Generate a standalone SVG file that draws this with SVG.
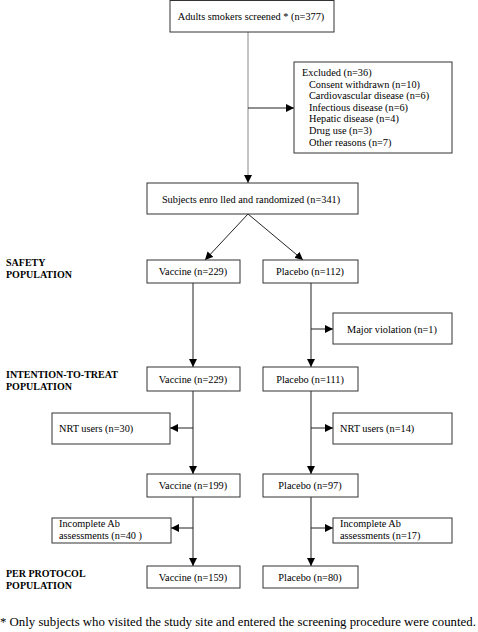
<svg xmlns="http://www.w3.org/2000/svg" width="478" height="632" viewBox="0 0 478 632" font-family="'Liberation Serif', 'Times New Roman', Times, serif">
<style>
.box{fill:#fff;stroke:#333;stroke-width:1}
text{font-family:'Liberation Serif','Times New Roman',Times,serif;font-size:10.3px;fill:#000}
.c{text-anchor:middle}
.lbl{font-weight:bold;font-size:10px}
.ln{stroke:#222;stroke-width:1;fill:none}
.gr{stroke:#888}
</style>
<defs>
<marker id="ah" viewBox="0 0 10 10" refX="10" refY="5" markerWidth="8" markerHeight="8" markerUnits="userSpaceOnUse" orient="auto">
<path d="M0,0 L10,5 L0,10 z" fill="#000"/>
</marker>
</defs>
<rect width="478" height="632" fill="#fff"/>
<g id="connectors">
<line class="ln gr" x1="248" y1="32" x2="248" y2="183" marker-end="url(#ah)"/>
<line class="ln" x1="248" y1="108" x2="294" y2="108" marker-end="url(#ah)"/>
<line class="ln" x1="248" y1="214" x2="205" y2="260" marker-end="url(#ah)"/>
<line class="ln" x1="248" y1="214" x2="303" y2="260" marker-end="url(#ah)"/>
<line class="ln" x1="193" y1="283" x2="193" y2="367" marker-end="url(#ah)"/>
<line class="ln" x1="311" y1="283" x2="311" y2="367" marker-end="url(#ah)"/>
<line class="ln" x1="311" y1="329" x2="333" y2="329" marker-end="url(#ah)"/>
<line class="ln" x1="193" y1="391" x2="193" y2="474" marker-end="url(#ah)"/>
<line class="ln" x1="193" y1="428" x2="170" y2="428" marker-end="url(#ah)"/>
<line class="ln" x1="311" y1="391" x2="311" y2="474" marker-end="url(#ah)"/>
<line class="ln" x1="311" y1="428" x2="333" y2="428" marker-end="url(#ah)"/>
<line class="ln" x1="193" y1="497" x2="193" y2="566" marker-end="url(#ah)"/>
<line class="ln" x1="193" y1="528" x2="171" y2="528" marker-end="url(#ah)"/>
<line class="ln" x1="311" y1="497" x2="311" y2="566" marker-end="url(#ah)"/>
<line class="ln" x1="311" y1="528" x2="333" y2="528" marker-end="url(#ah)"/>
</g>
<g id="screened"><rect class="box" x="170" y="0.5" width="164" height="31.5"/><text class="c" x="251" y="20">Adults smokers screened * (n=377)</text></g>
<g id="excluded"><rect class="box" x="294" y="62" width="158" height="91"/>
<text x="302" y="76">Excluded (n=36)</text>
<text x="309" y="87.5">Consent withdrawn (n=10)</text>
<text x="309" y="99">Cardiovascular disease (n=6)</text>
<text x="309" y="110.5">Infectious disease (n=6)</text>
<text x="309" y="122">Hepatic disease (n=4)</text>
<text x="309" y="133.5">Drug use (n=3)</text>
<text x="309" y="146">Other reasons (n=7)</text>
</g>
<g id="enrolled"><rect class="box" x="147" y="183" width="211" height="31"/><text class="c" x="251" y="202.5">Subjects enro lled and randomized (n=341)</text></g>
<g id="lbl-safety"><text class="lbl" x="6" y="266">SAFETY</text><text class="lbl" x="6" y="278">POPULATION</text></g>
<g id="vac1"><rect class="box" x="147" y="260" width="93" height="23"/><text class="c" x="193" y="275">Vaccine (n=229)</text></g>
<g id="pla1"><rect class="box" x="263" y="260" width="95" height="23"/><text class="c" x="310" y="275">Placebo (n=112)</text></g>
<g id="major"><rect class="box" x="333" y="313" width="119" height="31"/><text class="c" x="392" y="332.5">Major violation (n=1)</text></g>
<g id="lbl-itt"><text class="lbl" x="6" y="378">INTENTION-TO-TREAT</text><text class="lbl" x="6" y="390">POPULATION</text></g>
<g id="vac2"><rect class="box" x="147" y="367" width="93" height="24"/><text class="c" x="193" y="382.5">Vaccine (n=229)</text></g>
<g id="pla2"><rect class="box" x="263" y="367" width="95" height="24"/><text class="c" x="310" y="382.5">Placebo (n=111)</text></g>
<g id="nrt1"><rect class="box" x="52" y="413" width="118" height="31"/><text x="59" y="432">NRT users (n=30)</text></g>
<g id="nrt2"><rect class="box" x="333" y="413" width="119" height="31"/><text x="340" y="432">NRT users (n=14)</text></g>
<g id="vac3"><rect class="box" x="147" y="474" width="93" height="23"/><text class="c" x="193" y="489">Vaccine (n=199)</text></g>
<g id="pla3"><rect class="box" x="263" y="474" width="95" height="23"/><text class="c" x="310" y="489">Placebo (n=97)</text></g>
<g id="inc1"><rect class="box" x="52" y="518" width="119" height="25"/><text x="59" y="526.5">Incomplete Ab</text><text x="59" y="538.5">assessments (n=40 )</text></g>
<g id="inc2"><rect class="box" x="333" y="518" width="119" height="25"/><text x="340" y="526.5">Incomplete Ab</text><text x="340" y="538.5">assessments (n=17)</text></g>
<g id="lbl-pp"><text class="lbl" x="6" y="577">PER PROTOCOL</text><text class="lbl" x="6" y="589">POPULATION</text></g>
<g id="vac4"><rect class="box" x="147" y="566" width="93" height="22"/><text class="c" x="193" y="580.5">Vaccine (n=159)</text></g>
<g id="pla4"><rect class="box" x="263" y="566" width="95" height="22"/><text class="c" x="310" y="580.5">Placebo (n=80)</text></g>
<g id="footnote"><text x="0" y="626" style="font-size:12.8px">* Only subjects who visited the study site and entered the screening procedure were counted.</text></g>
</svg>
